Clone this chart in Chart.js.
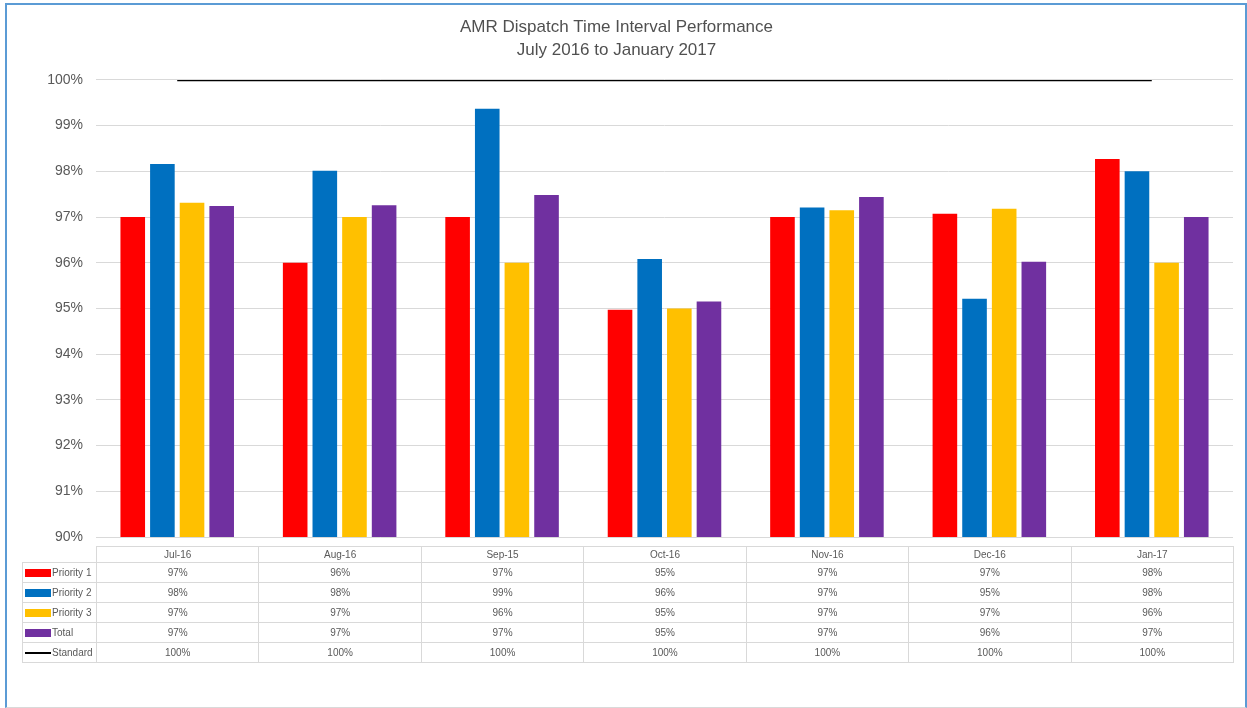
<!DOCTYPE html>
<html>
<head>
<meta charset="utf-8">
<script src="https://cdn.jsdelivr.net/npm/chart.js@4"></script>
<style>
  html, body { margin: 0; padding: 0; background: #fff; }
  body { width: 1247px; height: 708px; position: relative; overflow: hidden; font-family: Arial, "Liberation Sans", sans-serif; }
  #frame { position: absolute; left: 5px; top: 3px; width: 1238px; height: 702px;
    border: 2px solid #5b9bd5; border-bottom: 1px solid #d9d9d9; }
  #wrap { position: absolute; left: 0; top: 0; width: 1247px; height: 708px; }
  #dataTable { position: absolute; left: 22px; top: 546px; border-collapse: collapse;
    font-family: "Liberation Sans Narrow", "Liberation Sans", Arial, sans-serif; font-size: 10px; color: #595959; table-layout: fixed; }
  #dataTable td { border: 1px solid #d9d9d9; text-align: center; padding: 0; height: 19px; white-space: nowrap; }
  #dataTable tr.head td { height: 15px; }
  #dataTable td.blank { border: none; }
  #dataTable td.key { text-align: left; padding-left: 2px; }
  .sw { display: inline-block; width: 26px; height: 8px; vertical-align: middle; margin-right: 1px; }
  .ln { display: inline-block; width: 26px; height: 2px; background: #000; vertical-align: middle; margin-right: 1px; }
</style>
</head>
<body>
<div id="frame"></div>
<div id="wrap"><canvas id="myChart" width="1247" height="708"></canvas></div>
<table id="dataTable"></table>
<script>
const months = ['Jul-16', 'Aug-16', 'Sep-15', 'Oct-16', 'Nov-16', 'Dec-16', 'Jan-17'];
const priority1 = [97.0, 96.0, 97.0, 94.97, 97.0, 97.07, 98.27];
const priority2 = [98.16, 98.01, 99.37, 96.08, 97.21, 95.21, 98.0];
const priority3 = [97.31, 97.0, 96.0, 95.0, 97.15, 97.18, 96.0];
const total = [97.24, 97.26, 97.48, 95.15, 97.44, 96.02, 97.0];
const standard = [100, 100, 100, 100, 100, 100, 100];

const series = [
  { label: 'Priority 1', data: priority1, color: '#ff0000' },
  { label: 'Priority 2', data: priority2, color: '#0070c0' },
  { label: 'Priority 3', data: priority3, color: '#ffc000' },
  { label: 'Total', data: total, color: '#7030a0' }
];

const datasets = series.map(s => ({
  type: 'bar',
  label: s.label,
  data: s.data,
  backgroundColor: s.color,
  categoryPercentage: 0.73,
  barPercentage: 0.83,
  order: 2
}));
datasets.push({
  type: 'line',
  label: 'Standard',
  data: standard,
  borderColor: '#000000',
  borderWidth: 2.5,
  pointRadius: 0,
  fill: false,
  order: 1
});

const chart = new Chart('myChart', {
  type: 'bar',
  data: { labels: months, datasets: datasets },
  options: {
    responsive: false,
    animation: false,
    layout: { padding: { left: 0, right: 14, top: 0, bottom: 171 } },
    plugins: {
      legend: { display: false },
      tooltip: { enabled: false },
      title: {
        display: true,
        text: ['AMR Dispatch Time Interval Performance', 'July 2016 to January 2017'],
        color: '#505050',
        font: { family: 'Arial, "Liberation Sans", sans-serif', size: 17, weight: 'normal', lineHeight: 1.35 },
        padding: { top: 16, bottom: 18 }
      }
    },
    scales: {
      x: { display: false },
      y: {
        min: 90,
        max: 100,
        afterFit: (s) => { s.width = 96; },
        border: { display: false },
        grid: { color: '#d9d9d9', drawTicks: false },
        ticks: {
          stepSize: 1,
          padding: 13,
          color: '#595959',
          font: { family: 'Arial, "Liberation Sans", sans-serif', size: 14 },
          callback: (v) => v + '%'
        }
      }
    }
  }
});

// data table under the plot
const table = document.getElementById('dataTable');
const colW = (chart.chartArea.right - chart.chartArea.left) / months.length;
const keyW = chart.chartArea.left - 22;
let html = '<colgroup><col style="width:' + keyW + 'px">' +
  months.map(() => '<col style="width:' + colW + 'px">').join('') + '</colgroup>';
html += '<tr class="head"><td class="blank"></td>' + months.map(m => '<td>' + m + '</td>').join('') + '</tr>';
series.forEach(s => {
  html += '<tr><td class="key"><span class="sw" style="background:' + s.color + '"></span>' + s.label + '</td>' +
    s.data.map(v => '<td>' + Math.round(v) + '%</td>').join('') + '</tr>';
});
html += '<tr><td class="key"><span class="ln"></span>Standard</td>' +
  standard.map(v => '<td>' + v + '%</td>').join('') + '</tr>';
table.innerHTML = html;
table.style.left = '22px';
table.style.width = (keyW + colW * months.length) + 'px';
</script>
</body>
</html>
